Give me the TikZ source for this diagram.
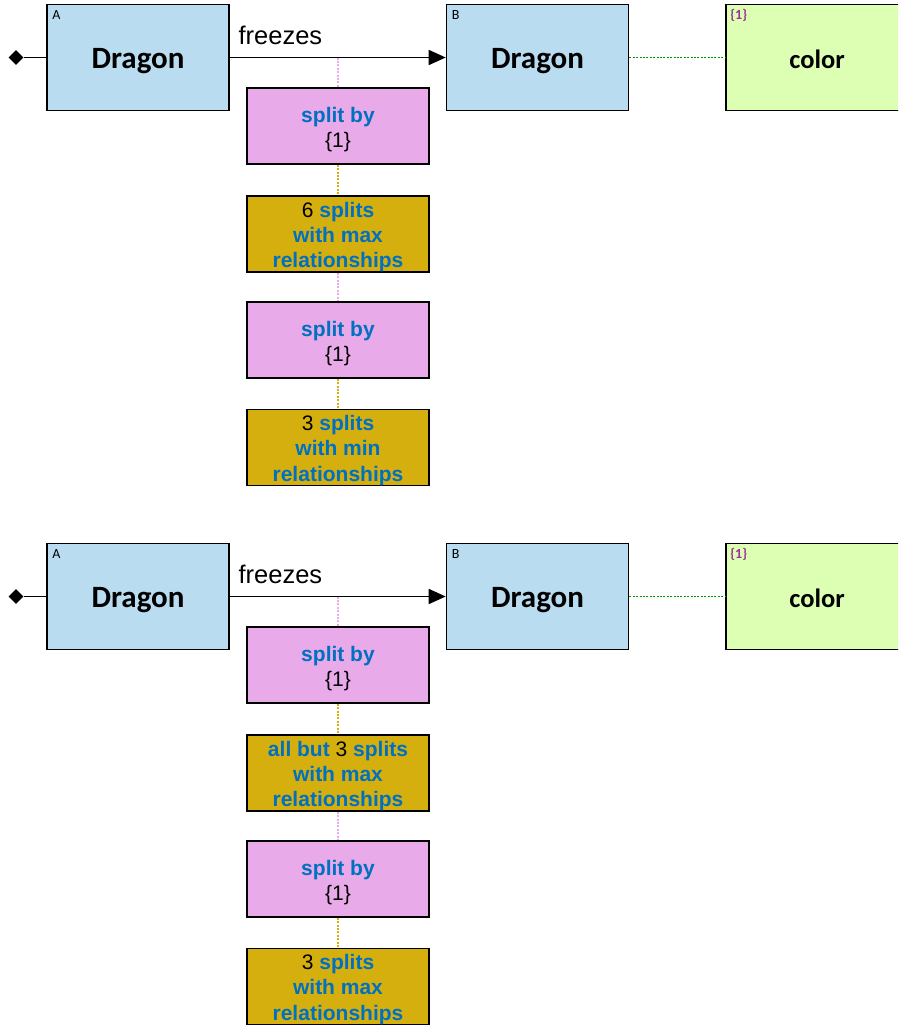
\documentclass[tikz,border=0pt]{standalone}
\usepackage{fontspec}
\setmainfont{Liberation Sans}
\newfontfamily\calibri{Carlito}
\usetikzlibrary{positioning, shapes.geometric, arrows.meta, calc}

\definecolor{entityblue}{RGB}{185,220,240}
\definecolor{attrgreen}{RGB}{221,255,179}
\definecolor{splitpink}{RGB}{232,170,232}
\definecolor{splitgold}{RGB}{213,175,14}
\definecolor{kwblue}{RGB}{0,112,192}
\definecolor{tagpurple}{RGB}{153,51,153}
\definecolor{linkgreen}{RGB}{0,150,0}
\newcommand{\kw}[1]{\textbf{\textcolor{kwblue}{#1}}}

\begin{document}
\begin{tikzpicture}[x=1pt, y=-1pt]
    \tikzset{
        box/.style={draw=black, line width=1.6pt, minimum width=182pt, minimum height=106pt, inner sep=0pt},
        entity/.style={box, fill=entityblue, text height=27pt, text depth=6pt, font=\calibri\bfseries\fontsize{31}{36}\selectfont},
        attribute/.style={box, fill=attrgreen, text height=27pt, text depth=6pt, font=\calibri\bfseries\fontsize{26.5}{30}\selectfont},
        split box/.style={box, minimum height=76pt},
        split text/.style={align=center, inner sep=0pt, font=\fontsize{21}{25.3}\selectfont},
        tag/.style={anchor=north west, inner sep=0pt, font=\calibri\fontsize{14}{16}\selectfont},
        link/.style={line width=1.6pt, dash pattern=on 2pt off 1.4pt}
    }

    \useasboundingbox (0,0) rectangle (898,1026);
    \clip (0,0) rectangle (898,1026);

    \foreach \r/\dy/\goldtext/\minmax in {1/0/{6 \kw{splits}}/min, 2/539/{\kw{all but} 3 \kw{splits}}/max}{
        % entities and attribute
        \node[entity] (A\r) at (138,57.5+\dy) {Dragon};
        \node[entity] (B\r) at (537.5,57.5+\dy) {Dragon};
        \node[attribute] (C\r) at (817,57.5+\dy) {color};
        \node[tag] (At\r) at ([xshift=6pt,yshift=-7pt]A\r.north west) {A};
        \node[tag] (Bt\r) at ([xshift=6pt,yshift=-7pt]B\r.north west) {B};
        \node[tag, text=tagpurple, font=\calibri\bfseries\fontsize{14}{16}\selectfont] (Ct\r) at ([xshift=5pt,yshift=-5pt]C\r.north west) {\{1\}};
        \node[diamond, fill=black, inner sep=0pt, minimum size=15pt] (D\r) at (16,57.5+\dy) {};

        % split chain
        \node[split box, fill=splitpink] (P\r) at (338,126+\dy) {};
        \node[split box, fill=splitgold] (G\r) at (338,234+\dy) {};
        \node[split box, fill=splitpink] (Q\r) at (338,340+\dy) {};
        \node[split box, fill=splitgold] (H\r) at (338,447.5+\dy) {};
        \node[split text] (Pt\r) at ([yshift=-3.5pt]P\r.center) {\kw{split by}\\\{1\}};
        \node[split text] (Gt\r) at ([yshift=-3pt]G\r.center) {\goldtext\\\kw{with max}\\\kw{relationships}};
        \node[split text] (Qt\r) at ([yshift=-3.5pt]Q\r.center) {\kw{split by}\\\{1\}};
        \node[split text] (Ht\r) at ([yshift=-3pt]H\r.center) {3 \kw{splits}\\\kw{with \minmax}\\\kw{relationships}};

        % relation
        \draw[line width=1.5pt] (D\r) -- (A\r);
        \draw[line width=1.6pt, -{Triangle[length=17pt,width=15pt]}] (A\r) -- node[pos=0, anchor=south west, inner sep=2pt, xshift=6pt, yshift=10pt, font=\fontsize{25.5}{30}\selectfont] (F\r) {freezes} (B\r);
        \draw[link, linkgreen] (B\r) -- (C\r);
        \draw[link, splitpink] (P\r.north |- A\r.east) -- (P\r);
        \draw[link, splitgold] (P\r) -- (G\r);
        \draw[link, splitpink] (G\r) -- (Q\r);
        \draw[link, splitgold] (Q\r) -- (H\r);
    }
\end{tikzpicture}
\end{document}
